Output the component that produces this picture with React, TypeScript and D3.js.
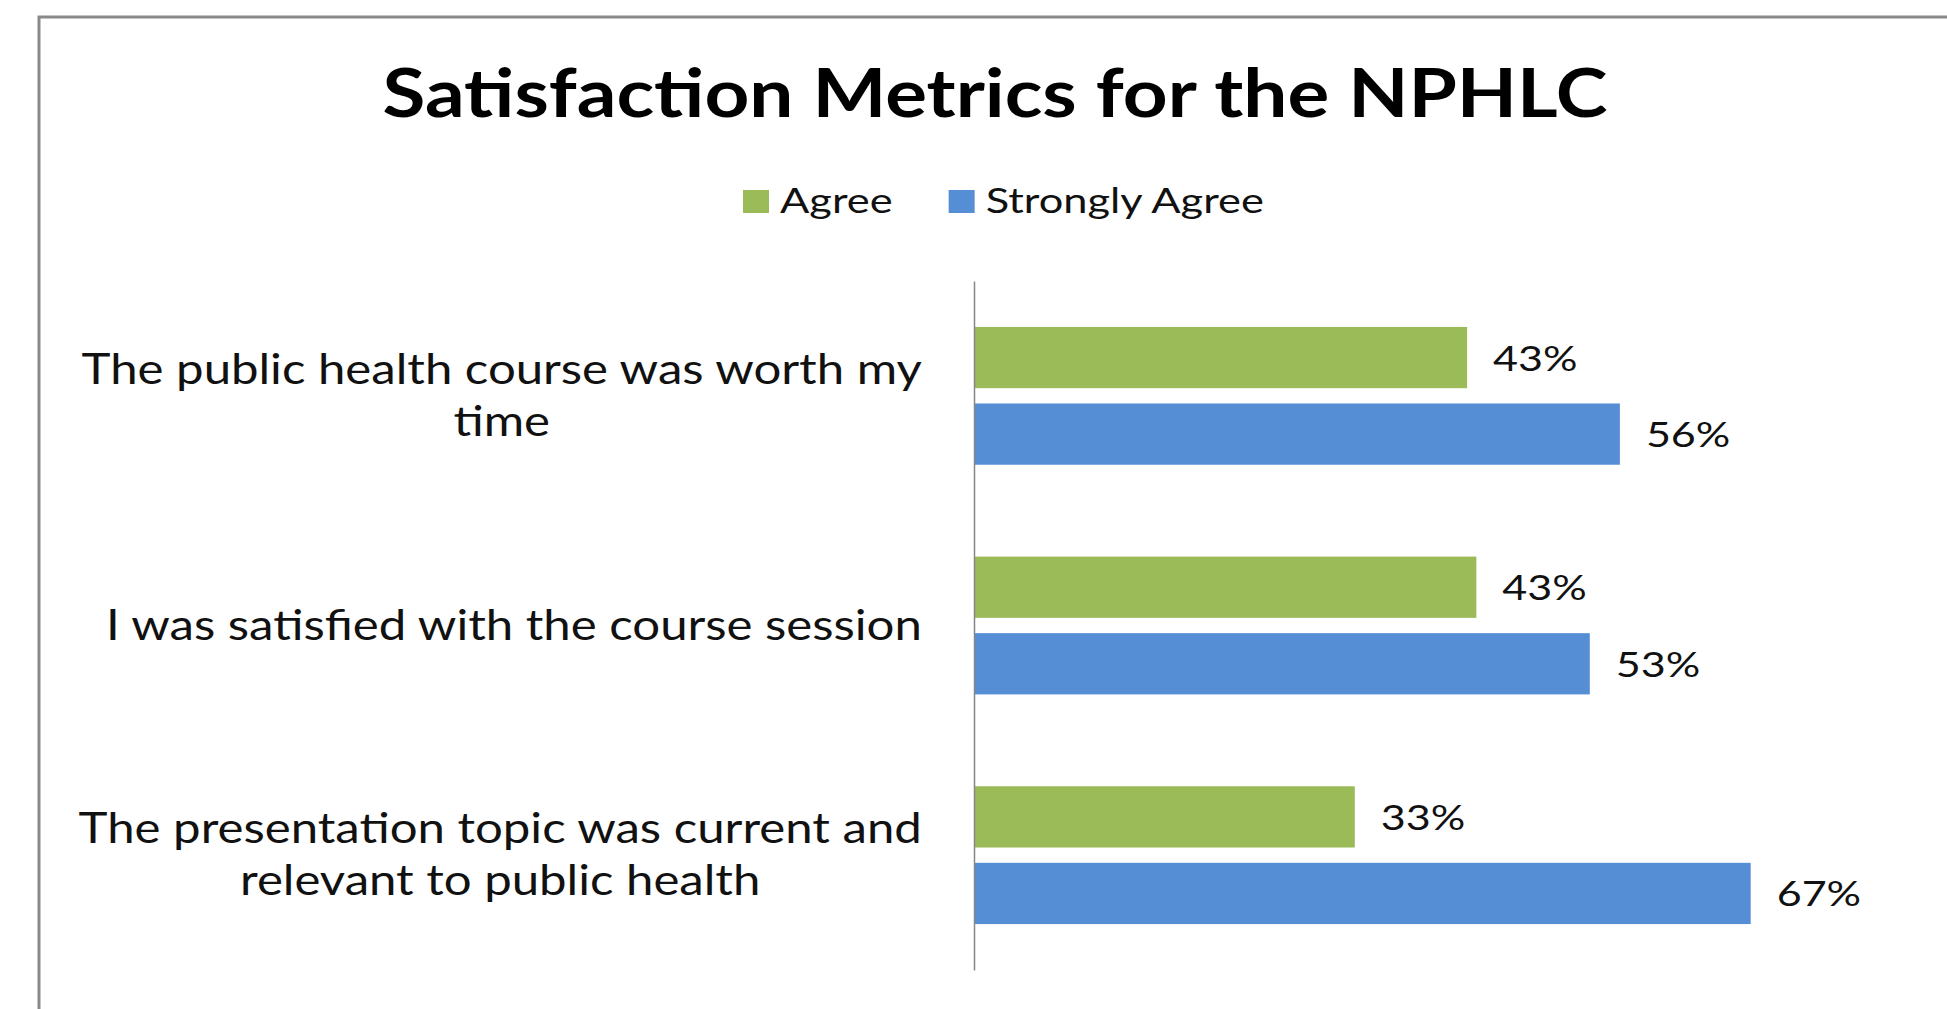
import * as d3 from "d3";
import { useEffect, useRef } from "react";

const chartTitle = "Satisfaction Metrics for the NPHLC";
const categories = [
  "The public health course was worth my time",
  "I was satisfied with the course session",
  "The presentation topic was current and relevant to public health",
];
const seriesNames = ["Agree", "Strongly Agree"];
const agreeValues = [0.426, 0.434, 0.329];
const stronglyAgreeValues = [0.558, 0.532, 0.671];
const seriesColors = ["#9BBB59", "#558ED5"];

const W = 1947,
  H = 1009;
const FONT = "Lato, 'Open Sans', sans-serif";

type Sel = d3.Selection<any, any, any, any>;

// text drawn a little wider than the font's natural width (the source looks stretched)
const addText = (
  parent: Sel,
  x: number,
  y: number,
  str: string,
  size: number,
  sx: number,
  anchor = "start",
  weight = "normal"
) => {
  const t = parent
    .append("text")
    .attr("transform", `translate(${x},${y}) scale(${sx},1)`)
    .attr("text-anchor", anchor)
    .style("font-family", FONT)
    .style("font-size", `${size}px`)
    .style("font-weight", weight)
    .attr("fill", "#111")
    .text(str);
  return t;
};

const App = () => {
  const ref = useRef<SVGSVGElement>(null);

  useEffect(() => {
    const svg = d3.select(ref.current);
    svg.selectAll("*").remove();

    // chart area (the border runs off the page on the right and bottom)
    const chart = { left: 39, top: 17, width: 1912, height: 1040 };
    const plot = { left: 974, right: 1900, top: 281, bottom: 970 };

    svg
      .append("rect")
      .attr("x", chart.left)
      .attr("y", chart.top)
      .attr("width", chart.width)
      .attr("height", chart.height)
      .attr("fill", "#fff")
      .attr("stroke", "#8a8a8a")
      .attr("stroke-width", 3);

    addText(svg, chart.left + chart.width / 2, 117, chartTitle, 66, 1.185, "middle", "bold").attr(
      "fill",
      "#000"
    );

    // legend
    const legend = svg.append("g");
    let lx = 743;
    seriesNames.forEach((name, i) => {
      legend
        .append("rect")
        .attr("x", lx)
        .attr("y", 190)
        .attr("width", 26)
        .attr("height", 23)
        .attr("fill", seriesColors[i]);
      const t = addText(legend, lx + 37, 213, name, 35, 1.24);
      const tw = (t.node() as SVGTextElement).getComputedTextLength() * 1.24;
      lx += 37 + tw + 56;
    });

    const x = d3.scaleLinear().domain([0, 0.8]).range([plot.left, plot.right]);
    const y0 = d3
      .scaleBand<string>()
      .domain(categories)
      .range([plot.top, plot.bottom]);
    const y1 = d3
      .scaleBand<string>()
      .domain(seriesNames)
      .range([0, y0.bandwidth()])
      .paddingInner(0.2)
      .paddingOuter(0.6);

    const rows = categories.map((c, i) => ({
      category: c,
      values: [agreeValues[i], stronglyAgreeValues[i]],
    }));
    const fmt = d3.format(".0%");

    const groups = svg
      .selectAll(".group")
      .data(rows)
      .enter()
      .append("g")
      .attr("class", "group")
      .attr("transform", (d) => `translate(0,${y0(d.category)})`);

    groups
      .selectAll("rect")
      .data((d) => d.values.map((v, i) => ({ v, s: seriesNames[i], i })))
      .enter()
      .append("rect")
      .attr("x", x(0))
      .attr("y", (d) => y1(d.s)!)
      .attr("width", (d) => x(d.v) - x(0))
      .attr("height", y1.bandwidth())
      .attr("fill", (d) => seriesColors[d.i]);

    groups.each(function (d) {
      const g = d3.select(this);
      d.values.forEach((v, i) => {
        addText(g, x(v) + 26, y1(seriesNames[i])! + y1.bandwidth() / 2 + 13, fmt(v), 35, 1.23);
      });
    });

    // vertical category axis line
    svg
      .append("g")
      .attr("transform", `translate(${x(0)},0)`)
      .call(d3.axisLeft(y0).tickSize(0).tickSizeOuter(0).tickFormat(() => ""))
      .call((g) => g.select(".domain").attr("stroke", "#868686").attr("stroke-width", 1.5));

    // category labels, wrapped and centred, block right-aligned near the axis
    const labelSx = 1.17;
    const labelRight = x(0) - 52;
    const maxWidth = 880;
    const lineHeight = 52;
    categories.forEach((c) => {
      const g = svg.append("g");
      const probe = addText(g, 0, 0, "", 42, 1);
      const measure = (s: string) => {
        probe.text(s);
        return (probe.node() as SVGTextElement).getComputedTextLength() * labelSx;
      };
      const lines: string[] = [];
      let line = "";
      c.split(" ").forEach((w) => {
        const test = line ? line + " " + w : w;
        if (measure(test) > maxWidth && line) {
          lines.push(line);
          line = w;
        } else {
          line = test;
        }
      });
      lines.push(line);
      const blockW = d3.max(lines.map(measure)) ?? 0;
      probe.remove();
      const cx = labelRight - blockW / 2;
      const cy = y0(c)! + y0.bandwidth() / 2;
      const firstBaseline = cy - ((lines.length - 1) * lineHeight) / 2 + 14;
      lines.forEach((l, i) => {
        addText(g, cx, firstBaseline + i * lineHeight, l, 42, labelSx, "middle");
      });
    });
  }, []);

  return (
    <svg
      ref={ref}
      width={W}
      height={H}
      style={{ position: "absolute", left: 0, top: 0, background: "#fff" }}
    />
  );
};

export default App;
